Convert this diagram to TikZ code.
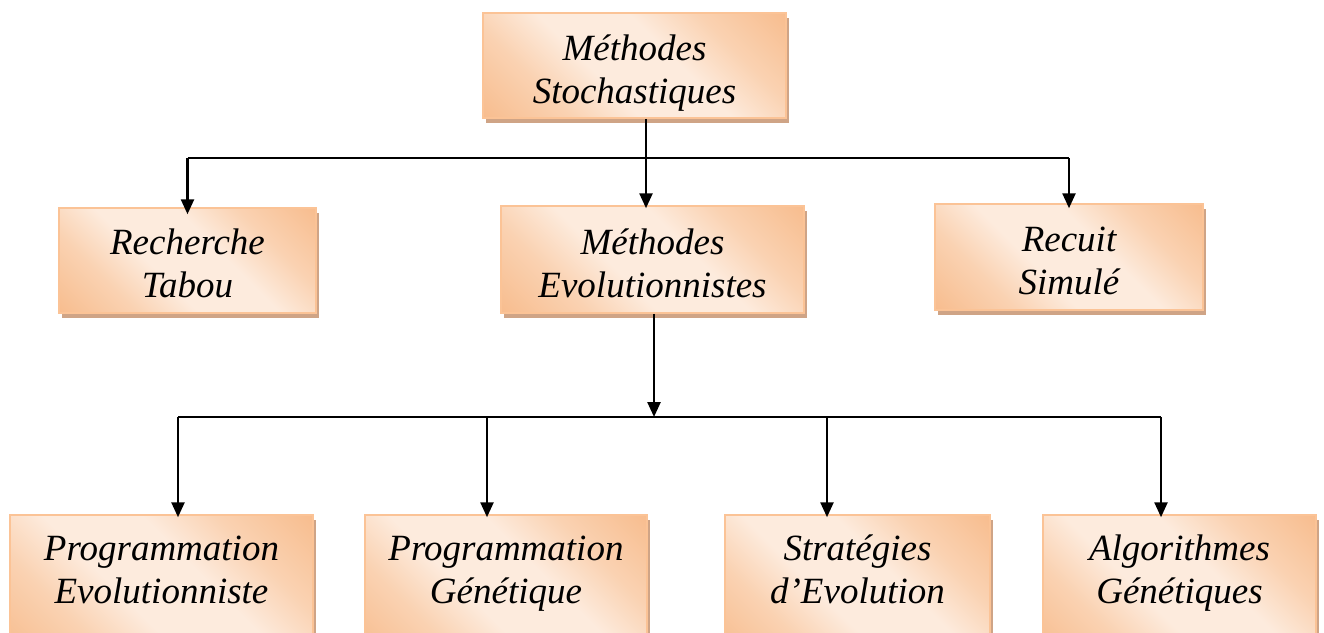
\documentclass[tikz,border=0pt]{standalone}
\usepackage{fontspec}
\setmainfont{Liberation Serif}
\usetikzlibrary{arrows.meta,shadows}
\definecolor{orgdark}{HTML}{F7B988}
\definecolor{orgmid}{HTML}{FAD2B2}
\definecolor{orglight}{HTML}{FDEBDD}
\definecolor{orgborder}{HTML}{FBC396}
\definecolor{shadowc}{HTML}{CFA486}
\pgfdeclarehorizontalshading{oshade}{100bp}{color(0bp)=(orgdark); color(12bp)=(orgdark); color(30bp)=(orgmid); color(42bp)=(orglight); color(58bp)=(orglight); color(70bp)=(orgmid); color(88bp)=(orgdark); color(100bp)=(orgdark)}
\newcommand{\two}[2]{\strut #1\\\strut #2}
\tikzset{
  obox/.style={rectangle, draw=orgborder, line width=1.5pt,
    shading=oshade, shading angle=45, inner sep=0pt,
    drop shadow={shadow xshift=3pt, shadow yshift=-5pt, fill=shadowc, opacity=1}},
  otext/.style={font=\fontsize{37}{43}\selectfont\itshape, align=center, inner sep=0pt},
  conn/.style={line width=2.5pt, black},
  arr/.style={conn, -{Triangle[width=13pt,length=15pt]}}
}
\begin{document}
\begin{tikzpicture}[x=1pt,y=-1pt]
\clip (0,0) rectangle (1324,632);
\useasboundingbox (0,0) rectangle (1324,632);
\fill[white] (0,0) rectangle (1324,632);

\node[obox, minimum width=303pt, minimum height=105pt] (top) at (634.5,65.5) {};
\node[obox, minimum width=257pt, minimum height=105pt] (tabou) at (187.5,260.5) {};
\node[obox, minimum width=303pt, minimum height=107pt] (evol) at (652.5,259.5) {};
\node[obox, minimum width=268pt, minimum height=106pt] (recuit) at (1069,257) {};
\node[obox, minimum width=303pt, minimum height=140pt] (pe) at (161.5,585) {};
\node[obox, minimum width=282pt, minimum height=140pt] (pg) at (506,585) {};
\node[obox, minimum width=265pt, minimum height=140pt] (se) at (857.5,585) {};
\node[obox, minimum width=273pt, minimum height=140pt] (ag) at (1179.5,585) {};

\node[otext] (topt) at ([yshift=-8pt]top.center) {\two{Méthodes}{Stochastiques}};
\node[otext] (taboutt) at ([yshift=-7pt]tabou.center) {\two{Recherche}{Tabou}};
\node[otext] (evolt) at ([yshift=-8pt]evol.center) {\two{Méthodes}{Evolutionnistes}};
\node[otext] (recuitt) at ([yshift=-7pt]recuit.center) {\two{Recuit}{Simulé}};
\node[otext] (pet) at (161.5,573) {\two{Programmation}{Evolutionniste}};
\node[otext] (pgt) at (506,573) {\two{Programmation}{Génétique}};
\node[otext] (set) at (857.5,573) {\two{Stratégies}{d’Evolution}};
\node[otext] (agt) at (1179.5,573) {\two{Algorithmes}{Génétiques}};

\coordinate (j1) at (646,158);
\draw[conn] (top.south -| j1) -- (j1);
\draw[conn] (tabou.north |- j1) -- (recuit.north |- j1);
\draw[arr] (tabou.north |- j1) -- ([yshift=-7pt]tabou.north);
\draw[arr] (j1) -- ([yshift=-3pt]evol.north -| j1);
\draw[arr] (recuit.north |- j1) -- ([yshift=-5pt]recuit.north);

\coordinate (j2) at (654,417);
\coordinate (a1) at (178,417);
\coordinate (a2) at (487,417);
\coordinate (a3) at (827,417);
\coordinate (a4) at (1161,417);
\draw[arr] (evol.south -| j2) -- (j2);
\draw[conn] (a1) -- (a4);
\draw[arr] (a1) -- ([yshift=-3pt]a1 |- pe.north);
\draw[arr] (a2) -- ([yshift=-3pt]a2 |- pg.north);
\draw[arr] (a3) -- ([yshift=-3pt]a3 |- se.north);
\draw[arr] (a4) -- ([yshift=-3pt]a4 |- ag.north);
\end{tikzpicture}
\end{document}
